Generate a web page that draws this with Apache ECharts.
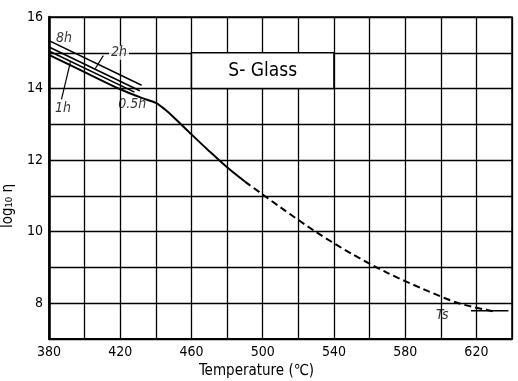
<!DOCTYPE html>
<html>
<head>
<meta charset="utf-8">
<script src="https://cdn.jsdelivr.net/npm/echarts@6/dist/echarts.min.js"></script>
<style>
  html, body { margin: 0; padding: 0; background: #fff; }
  #main { width: 518px; height: 381px; }
</style>
</head>
<body>
<div id="main"></div>
<script>
// 粘度曲线数据 (温度 °C, log10 η)
var t8h = [380, 432];
var eta8h = [15.34, 14.09];
var t2h = [380, 431];
var eta2h = [15.16, 13.94];
var t1h = [380, 428];
var eta1h = [15.05, 13.9];
// 0.5h 线接主曲线
var tMain = [380, 400, 420, 432, 440, 445, 450, 460, 470, 480, 490];
var etaMain = [14.94, 14.46, 13.98, 13.74, 13.6, 13.42, 13.2, 12.72, 12.25, 11.8, 11.4];
var tDash = [490, 510, 530, 550, 570, 590, 610, 630];
var etaDash = [11.4, 10.68, 9.99, 9.38, 8.85, 8.4, 8.0, 7.77];
// Ts 标记线
var tTs = [617, 638];
var etaTs = [7.79, 7.79];

// 标注
var noteText = ['8h', '2h', '1h', '0.5h', 'Ts'];
var noteT = [388.4, 419.3, 387.9, 426.7, 600.9];
var noteEta = [15.39, 15.0, 13.46, 13.57, 7.67];
var lead2hT = [410.5, 406];
var lead2hEta = [14.92, 14.56];
var lead1hT = [387, 392];
var lead1hEta = [13.7, 14.74];

var glassBoxT = [460, 540];
var glassBoxEta = [14, 15];

var FONT = '"DejaVu Sans Condensed", "DejaVu Sans", sans-serif';

function zip(xs, ys) {
    var out = [];
    for (var i = 0; i < xs.length; i++) {
        out.push([xs[i], ys[i]]);
    }
    return out;
}

function plainLine(name, data, width, type) {
    return {
        name: name,
        type: 'line',
        data: data,
        showSymbol: false,
        silent: true,
        lineStyle: { color: '#000', width: width, type: type || 'solid' }
    };
}

var notes = [];
for (var i = 0; i < noteText.length; i++) {
    notes.push({
        value: [noteT[i], noteEta[i]],
        label: noteText[i] === '2h' ? { backgroundColor: '#fff', padding: [0, 2] } : {}
    });
}

var myChart = echarts.init(document.getElementById('main'));

var mainSeries = plainLine('0.5h', zip(tMain, etaMain), 2);
mainSeries.smooth = 0.3;
mainSeries.markArea = {
    silent: true,
    itemStyle: { color: '#fff', borderColor: '#000', borderWidth: 1.5, opacity: 1 },
    label: {
        show: true,
        position: 'inside',
        formatter: 'S- Glass',
        color: '#000',
        fontSize: 19,
        fontFamily: FONT
    },
    data: [[
        { coord: [glassBoxT[0], glassBoxEta[0]] },
        { coord: [glassBoxT[1], glassBoxEta[1]] }
    ]]
};

var dashSeries = plainLine('dash', zip(tDash, etaDash), 2, [7, 4]);
dashSeries.smooth = 0.3;

myChart.setOption({
    animation: false,
    backgroundColor: '#fff',
    grid: {
        left: 49, right: 6, top: 17, bottom: 42,
        outerBoundsMode: 'none',
        containLabel: false,
        show: true,
        borderColor: '#000',
        borderWidth: 1.5
    },
    xAxis: {
        type: 'value',
        min: 380,
        max: 640,
        interval: 20,
        name: 'Temperature (℃)',
        nameLocation: 'middle',
        nameGap: 22,
        nameTextStyle: { color: '#000', fontSize: 15, fontFamily: FONT, padding: [0, 48, 0, 0] },
        axisLine: { lineStyle: { color: '#000', width: 2 } },
        axisTick: { show: false },
        axisLabel: {
            color: '#000',
            fontSize: 14,
            fontFamily: FONT,
            margin: 6,
            formatter: function (v) {
                return (v - 380) % 40 === 0 && v < 640 ? v : '';
            }
        },
        splitLine: { show: true, lineStyle: { color: '#000', width: 1.3 } }
    },
    yAxis: {
        type: 'value',
        min: 7,
        max: 16,
        interval: 1,
        name: 'log₁₀ η',
        nameLocation: 'middle',
        nameRotate: 90,
        nameGap: 30,
        nameTextStyle: { color: '#000', fontSize: 15, fontFamily: FONT, padding: [0, 56, 0, 0] },
        axisLine: { lineStyle: { color: '#000', width: 2.5 } },
        axisTick: { show: false },
        axisLabel: {
            color: '#000',
            fontSize: 14,
            fontFamily: FONT,
            margin: 6,
            formatter: function (v) {
                return v % 2 === 0 ? v : '';
            }
        },
        splitLine: { show: true, lineStyle: { color: '#000', width: 1.3 } }
    },
    series: [
        mainSeries,
        dashSeries,
        plainLine('8h', zip(t8h, eta8h), 1.6),
        plainLine('2h', zip(t2h, eta2h), 1.6),
        plainLine('1h', zip(t1h, eta1h), 1.6),
        plainLine('Ts', zip(tTs, etaTs), 1.6),
        plainLine('lead2h', zip(lead2hT, lead2hEta), 1.2),
        plainLine('lead1h', zip(lead1hT, lead1hEta), 1.2),
        {
            name: 'notes',
            type: 'scatter',
            silent: true,
            symbolSize: 0,
            itemStyle: { color: '#000' },
            label: {
                show: true,
                position: 'inside',
                color: '#000',
                fontSize: 14,
                fontStyle: 'italic',
                fontFamily: FONT,
                formatter: function (p) {
                    return noteText[p.dataIndex];
                }
            },
            data: notes,
            z: 5
        }
    ]
});
</script>
</body>
</html>
